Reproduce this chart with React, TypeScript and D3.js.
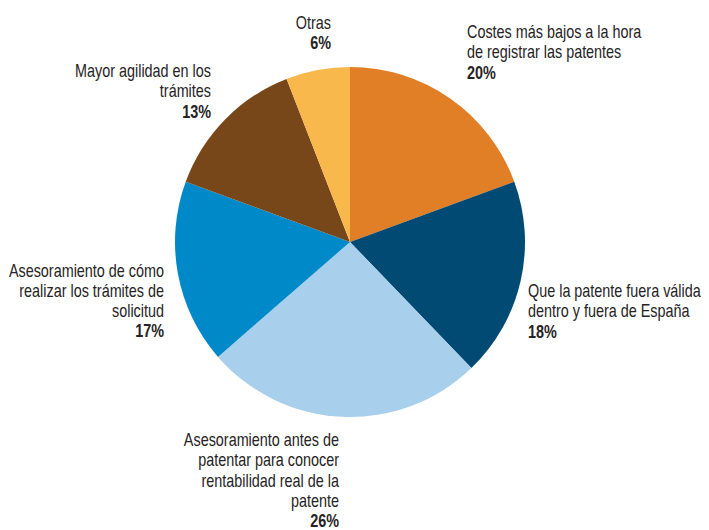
import React from "react";
import * as d3 from "d3";

const categories = [
  "Costes más bajos a la hora de registrar las patentes",
  "Que la patente fuera válida dentro y fuera de España",
  "Asesoramiento antes de patentar para conocer rentabilidad real de la patente",
  "Asesoramiento de cómo realizar los trámites de solicitud",
  "Mayor agilidad en los trámites",
  "Otras",
];
const values = [19.4, 18.4, 25.8, 17.0, 13.5, 5.9];
const pctLabels = ["20%", "18%", "26%", "17%", "13%", "6%"];
const labelLines = [
  ["Costes más bajos a la hora", "de registrar las patentes"],
  ["Que la patente fuera válida", "dentro y fuera de España"],
  ["Asesoramiento antes de", "patentar para conocer", "rentabilidad real de la", "patente"],
  ["Asesoramiento de cómo", "realizar los trámites de", "solicitud"],
  ["Mayor agilidad en los", "trámites"],
  ["Otras"],
];
const colors = ["#E07F26", "#004A73", "#A8CFEB", "#0089C9", "#77471A", "#F9B84C"];

const W = 709;
const H = 530;
const cx = 350;
const cy = 242;
const R = 175;
const LH = 20.3;
const SX = 0.8;
const FONT = "'Liberation Sans', Arial, sans-serif";

// label anchor: x, first baseline y, text-anchor
const labelPos: [number, number, "start" | "end"][] = [
  [467, 38, "start"],
  [528, 297, "start"],
  [339, 446, "end"],
  [164, 276.5, "end"],
  [211, 77, "end"],
  [331, 29, "end"],
];

export default function App() {
  const pie = d3.pie<number>().sort(null).value((d) => d)(values);
  const arc = d3.arc<d3.PieArcDatum<number>>().innerRadius(0).outerRadius(R);
  return (
    <svg
      width={W}
      height={H}
      style={{ position: "absolute", left: 0, top: 0, background: "#fff" }}
    >
      <g transform={`translate(${cx},${cy})`}>
        {pie.map((p, i) => (
          <path key={categories[i]} d={arc(p) || ""} fill={colors[i]} />
        ))}
      </g>
      <g fontFamily={FONT} fontSize={18} fill="#262324">
        {labelLines.map((lines, i) => {
          const [x, y, anchor] = labelPos[i];
          return (
            <text
              key={i}
              transform={`translate(${x},${y}) scale(${SX},1)`}
              textAnchor={anchor}
            >
              {lines.map((l, j) => (
                <tspan key={j} x={0} y={j * LH}>
                  {l}
                </tspan>
              ))}
              <tspan x={0} y={lines.length * LH} fontWeight="bold">
                {pctLabels[i]}
              </tspan>
            </text>
          );
        })}
      </g>
    </svg>
  );
}
